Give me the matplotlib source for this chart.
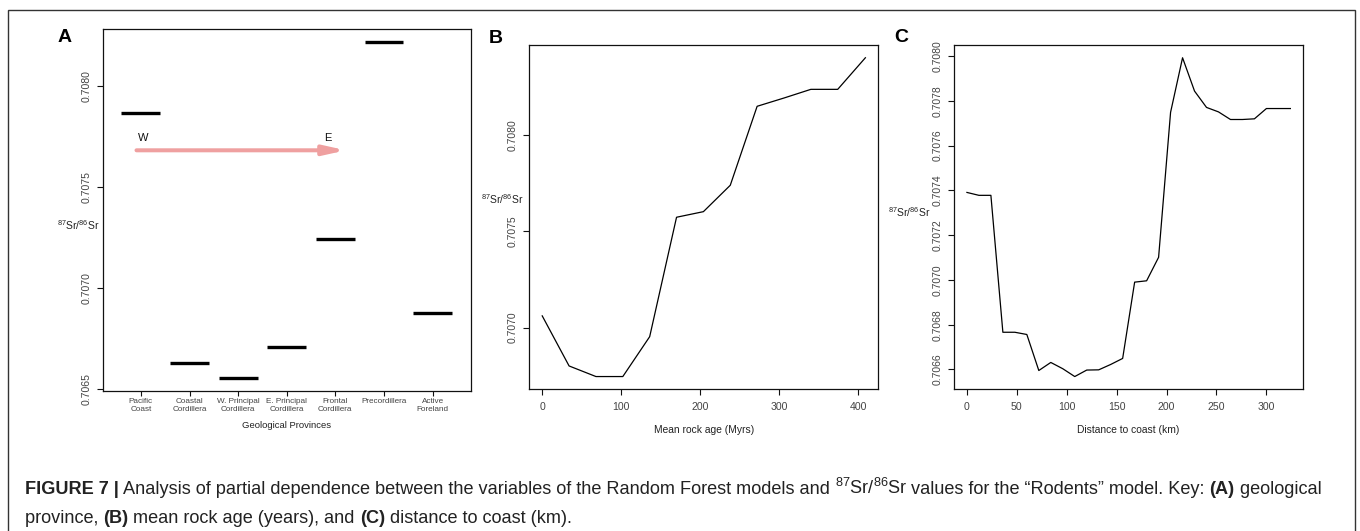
import matplotlib
matplotlib.use('Agg')
import matplotlib.pyplot as plt
from matplotlib.patches import Rectangle

plt.rcParams['font.family'] = ['Liberation Sans', 'DejaVu Sans']
plt.rcParams['mathtext.fontset'] = 'custom'
plt.rcParams['mathtext.rm'] = 'Liberation Sans'
plt.rcParams['mathtext.it'] = 'Liberation Sans'
plt.rcParams['mathtext.bf'] = 'Liberation Sans:bold'
plt.rcParams['mathtext.default'] = 'regular'

# ---------------- data ----------------
provinces = ['Pacific\nCoast', 'Coastal\nCordillera', 'W. Principal\nCordillera',
             'E. Principal\nCordillera', 'Frontal\nCordillera', 'Precordillera',
             'Active\nForeland']
province_sr = [0.707868, 0.706629, 0.706557, 0.706711, 0.707245, 0.708218, 0.706878]

age_myr = [0, 34, 68, 102, 136, 170, 204, 238, 272, 306, 340, 374, 409]
age_sr = [0.707061, 0.706801, 0.706746, 0.706746, 0.706953, 0.707573, 0.707602,
          0.707739, 0.708149, 0.708192, 0.708237, 0.708237, 0.708401]

dist_km = [0, 12, 24, 36, 48, 60, 72, 84, 96, 108, 120, 132, 144, 156, 168, 180,
           192, 204, 216, 228, 240, 252, 264, 276, 288, 300, 312, 324]
dist_sr = [0.707391, 0.707378, 0.707378, 0.706766, 0.706766, 0.706756, 0.706595,
           0.706631, 0.706603, 0.706568, 0.706597, 0.706598, 0.706622, 0.706649,
           0.706990, 0.706996, 0.707101, 0.707749, 0.707993, 0.707844, 0.707771,
           0.707751, 0.707717, 0.707717, 0.707720, 0.707766, 0.707766, 0.707766]

yticks_a = [0.7065, 0.7070, 0.7075, 0.7080]
yticks_b = [0.7070, 0.7075, 0.7080]
yticks_c = [0.7066, 0.7068, 0.7070, 0.7072, 0.7074, 0.7076, 0.7078, 0.7080]
xticks_b = [0, 100, 200, 300, 400]
xticks_c = [0, 50, 100, 150, 200, 250, 300]

ylab = '$^{87}$Sr/$^{86}$Sr'

# ---------------- figure ----------------
W, H = 1360, 531
fig = plt.figure(figsize=(W / 100, H / 100), dpi=100)
fig.patch.set_facecolor('white')


def px(x, y):
    return (x / W, 1 - y / H)


def add_ax(x0, x1, y0, y1):
    return fig.add_axes([x0 / W, 1 - y1 / H, (x1 - x0) / W, (y1 - y0) / H])


def r_range(vals):
    lo, hi = min(vals), max(vals)
    d = (hi - lo) * 0.04
    return lo - d, hi + d


TICKC = '#444444'


def style(ax, ysize=7.5, xsize=7.6):
    for s in ax.spines.values():
        s.set_linewidth(0.9)
        s.set_color('#111111')
    ax.tick_params(direction='out', length=4.3, width=0.8, color='#111111',
                   labelcolor=TICKC)
    ax.tick_params(axis='y', labelrotation=90, labelsize=ysize, pad=4)
    ax.tick_params(axis='x', labelsize=xsize, pad=5)
    for lab in ax.get_yticklabels():
        lab.set_va('center')


# outer frame
fig.add_artist(Rectangle(px(8, 540), (1355 - 8) / W, (540 - 10) / H,
                         transform=fig.transFigure, fill=False,
                         edgecolor='#333333', linewidth=1.0))

# ---------------- Panel A ----------------
axA = add_ax(103, 471, 29, 391)
xpos = list(range(len(provinces)))
axA.hlines(province_sr, [p - 0.4 for p in xpos], [p + 0.4 for p in xpos],
           color='black', linewidth=2.4)
axA.set_xlim(-0.78, 6.79)
axA.set_ylim(*r_range(province_sr))
axA.set_yticks(yticks_a)
axA.set_yticklabels([f'{v:.4f}' for v in yticks_a])
axA.set_xticks(xpos)
axA.set_xticklabels(provinces, linespacing=1.15)
style(axA, ysize=7.6, xsize=5.9)
axA.tick_params(axis='x', pad=1.5, length=3.8)
for lab in axA.get_xticklabels():
    lab.set_va('top')
axA.set_xlabel('Geological Provinces', fontsize=6.8, color='#222222', labelpad=6)

fig.text(*px(78.5, 225), ylab, fontsize=7.5, ha='center', va='center', color='#222222')
fig.text(*px(65, 38), 'A', fontsize=14, fontweight='bold', ha='center', va='center')

# W-E arrow
axA.annotate('', xy=px(346, 150.3), xytext=px(136.5, 150.3),
             xycoords='figure fraction', textcoords='figure fraction',
             arrowprops=dict(arrowstyle='-|>,head_length=0.9,head_width=0.2',
                             mutation_scale=14, color='#EFA0A0', lw=2.9,
                             shrinkA=0, shrinkB=0))
fig.text(*px(143, 138), 'W', fontsize=8, ha='center', va='center', color='#111111')
fig.text(*px(327.7, 138), 'E', fontsize=8, ha='center', va='center', color='#111111')

# ---------------- Panel B ----------------
axB = add_ax(529.3, 878.3, 45, 389.3)
axB.plot(age_myr, age_sr, color='black', linewidth=0.9)
axB.set_xlim(*r_range(age_myr))
axB.set_ylim(*r_range(age_sr))
axB.set_xticks(xticks_b)
axB.set_yticks(yticks_b)
axB.set_yticklabels([f'{v:.4f}' for v in yticks_b])
style(axB)
axB.set_xlabel('Mean rock age (Myrs)', fontsize=7.4, color='#222222', labelpad=9)
fig.text(*px(502, 199), ylab, fontsize=7.5, ha='center', va='center', color='#222222')
fig.text(*px(495.5, 38.3), 'B', fontsize=14, fontweight='bold', ha='center', va='center')

# ---------------- Panel C ----------------
axC = add_ax(954, 1303.3, 45, 389.3)
axC.plot(dist_km, dist_sr, color='black', linewidth=0.9)
axC.set_xlim(*r_range(dist_km))
axC.set_ylim(*r_range(dist_sr))
axC.set_xticks(xticks_c)
axC.set_yticks(yticks_c)
axC.set_yticklabels([f'{v:.4f}' for v in yticks_c])
style(axC)
axC.set_xlabel('Distance to coast (km)', fontsize=7.4, color='#222222', labelpad=9)
fig.text(*px(909, 212.3), ylab, fontsize=7.5, ha='center', va='center', color='#222222')
fig.text(*px(901.7, 38), 'C', fontsize=14, fontweight='bold', ha='center', va='center')

# ---------------- caption ----------------
line1 = [('FIGURE 7 |', 'bold'),
         (' Analysis of partial dependence between the variables of the Random Forest models and ', 'normal'),
         ('$^{87}$Sr/$^{86}$Sr', 'normal'),
         (' values for the \u201cRodents\u201d model. Key: ', 'normal'),
         ('(A)', 'bold'),
         (' geological', 'normal')]
line2 = [('province, ', 'normal'),
         ('(B)', 'bold'),
         (' mean rock age (years), and ', 'normal'),
         ('(C)', 'bold'),
         (' distance to coast (km).', 'normal')]

renderer = fig.canvas.get_renderer()


def measure(s, weight, size):
    t1 = fig.text(0, 0, '|' + s + '|', fontsize=size, fontweight=weight)
    t2 = fig.text(0, 0, '||', fontsize=size, fontweight=weight)
    w = t1.get_window_extent(renderer).width - t2.get_window_extent(renderer).width
    t1.remove()
    t2.remove()
    return w


base = 10.0
w1 = sum(measure(s, wt, base) for s, wt in line1)
cap_size = base * (1328 - 25) / w1


def draw_line(parts, x0, ybase, size):
    x = x0
    for s, wt in parts:
        fig.text(x / W, 1 - ybase / H, s, fontsize=size, fontweight=wt,
                 ha='left', va='baseline', color='#222222')
        x += measure(s, wt, size)


draw_line(line1, 25, 494, cap_size)
draw_line(line2, 25, 523, cap_size)

fig.savefig('out.png', dpi=100, facecolor='white')
